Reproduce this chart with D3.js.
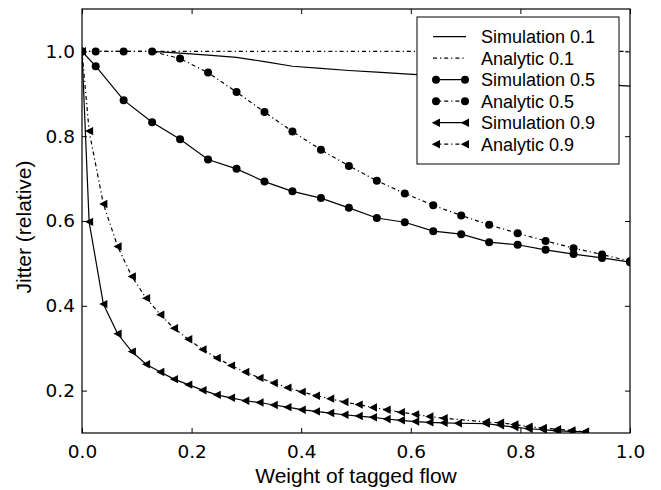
<!DOCTYPE html>
<html>
<head>
<meta charset="utf-8">
<script src="https://cdn.jsdelivr.net/npm/d3@7"></script>
<style>
  body { margin: 0; background: #fff; }
  svg { display: block; }
</style>
</head>
<body>
<div id="chart-area"></div>
<script>
// x grid of the 0.1 / 0.5 runs
const weightsHalf = [0, 0.025, 0.076, 0.128, 0.179, 0.230, 0.282, 0.333, 0.384, 0.436,
    0.487, 0.538, 0.589, 0.641, 0.692, 0.743, 0.795, 0.846, 0.897, 0.949, 1.0];
const sim01 = [null, null, null, 1.0, 0.996, 0.991, 0.986, 0.976, 0.965, 0.960,
    0.955, 0.951, 0.947, 0.943, 0.940, 0.936, 0.933, 0.929, 0.926, 0.922, 0.918];
const ana01 = [1.0, 1.0, 1.0, 1.0, 1.0, 1.0, 1.0, 1.0, 1.0, 1.0,
    1.0, 1.0, 1.0, 1.0, 1.0, 1.0, 1.0, 1.0, 1.0, 1.0, 1.0];
const sim05 = [1.0, 0.965, 0.885, 0.833, 0.793, 0.745, 0.723, 0.693, 0.670, 0.654,
    0.631, 0.607, 0.597, 0.576, 0.569, 0.550, 0.544, 0.532, 0.522, 0.513, 0.503];
const ana05 = [1.0, 1.0, 1.0, 1.0, 0.983, 0.950, 0.904, 0.857, 0.811, 0.768,
    0.730, 0.695, 0.665, 0.637, 0.613, 0.591, 0.571, 0.553, 0.536, 0.521, 0.505];

// x grid of the 0.9 runs
const weightsNine = [0, 0.013, 0.039, 0.065, 0.091, 0.117, 0.143, 0.168, 0.194, 0.220,
    0.246, 0.272, 0.298, 0.324, 0.350, 0.375, 0.401, 0.427, 0.453, 0.479,
    0.505, 0.531, 0.556, 0.582, 0.608, 0.634, 0.660, 0.686, 0.712, 0.737,
    0.763, 0.789, 0.815, 0.841, 0.867, 0.893, 0.918];
const sim09 = [1.0, 0.598, 0.404, 0.334, 0.292, 0.262, 0.244, 0.227, 0.214, 0.201,
    0.190, 0.183, 0.176, 0.172, 0.166, 0.161, 0.155, 0.151, 0.147, 0.143,
    0.140, 0.137, 0.133, 0.130, 0.127, 0.125, 0.124, 0.123, null, 0.122,
    0.118, 0.114, 0.110, 0.108, 0.105, 0.104, 0.103];
const ana09 = [1.0, 0.812, 0.640, 0.540, 0.469, 0.418, 0.379, 0.347, 0.321, 0.297,
    0.277, 0.259, 0.244, 0.230, 0.218, 0.207, 0.197, 0.188, 0.181, 0.173,
    0.167, 0.160, 0.155, 0.149, 0.144, 0.139, 0.135, null, null, 0.126,
    0.124, 0.120, 0.115, 0.112, 0.109, 0.106, 0.103];

const xTicks = [0.0, 0.2, 0.4, 0.6, 0.8, 1.0];
const yTicks = [0.2, 0.4, 0.6, 0.8, 1.0];

const series = [
    {name: "Simulation 0.1", xs: weightsHalf, ys: sim01, dash: null, marker: null},
    {name: "Analytic 0.1", xs: weightsHalf, ys: ana01, dash: "4,3,1.2,3", marker: null},
    {name: "Simulation 0.5", xs: weightsHalf, ys: sim05, dash: null, marker: "circle"},
    {name: "Analytic 0.5", xs: weightsHalf, ys: ana05, dash: "4,3,1.2,3", marker: "circle"},
    {name: "Simulation 0.9", xs: weightsNine, ys: sim09, dash: null, marker: "tri"},
    {name: "Analytic 0.9", xs: weightsNine, ys: ana09, dash: "4,3,1.2,3", marker: "tri"}
];

const W = 661, H = 490;
const margin = {top: 9, right: 31, bottom: 57, left: 82};
const iw = W - margin.left - margin.right;
const ih = H - margin.top - margin.bottom;

const x = d3.scaleLinear().domain([0, 1]).range([0, iw]);
const y = d3.scaleLinear().domain([0.1, 1.1]).range([ih, 0]);

const svg = d3.select("#chart-area").append("svg")
    .attr("width", W)
    .attr("height", H);

svg.append("defs").append("clipPath")
    .attr("id", "plot-clip")
    .append("rect")
    .attr("width", iw)
    .attr("height", ih);

const g = svg.append("g")
    .attr("transform", `translate(${margin.left},${margin.top})`);

const tickFont = "'DejaVu Sans', sans-serif";
const labelFont = "'Liberation Sans', Arial, sans-serif";

// axes with inward ticks on all four sides
const axisBottom = d3.axisBottom(x).tickValues(xTicks).tickFormat(d3.format(".1f"))
    .tickSizeInner(-5).tickSizeOuter(0).tickPadding(12);
const axisTop = d3.axisTop(x).tickValues(xTicks).tickFormat("")
    .tickSizeInner(-5).tickSizeOuter(0);
const axisLeft = d3.axisLeft(y).tickValues(yTicks).tickFormat(d3.format(".1f"))
    .tickSizeInner(-5).tickSizeOuter(0).tickPadding(7);
const axisRight = d3.axisRight(y).tickValues(yTicks).tickFormat("")
    .tickSizeInner(-5).tickSizeOuter(0);

const gx = g.append("g").attr("transform", `translate(0,${ih})`).call(axisBottom);
const gxt = g.append("g").call(axisTop);
const gy = g.append("g").call(axisLeft);
const gyr = g.append("g").attr("transform", `translate(${iw},0)`).call(axisRight);

[gx, gxt, gy, gyr].forEach(a => {
    a.select(".domain").remove();
    a.selectAll(".tick line").attr("stroke", "#000").attr("stroke-width", 1);
    a.selectAll(".tick text")
        .attr("fill", "#000")
        .style("font-family", tickFont)
        .style("font-size", "18.5px");
});

const plot = g.append("g").attr("clip-path", "url(#plot-clip)");

const line = d3.line()
    .x(d => x(d[0]))
    .y(d => y(d[1]));

const triPath = "M-4.2,0L4,-4.2L4,4.2Z";

series.forEach(s => {
    const pts = s.xs.map((v, i) => [v, s.ys[i]]).filter(d => d[1] !== null);
    plot.append("path")
        .datum(pts)
        .attr("d", line)
        .attr("fill", "none")
        .attr("stroke", "#000")
        .attr("stroke-width", 1.2)
        .attr("stroke-dasharray", s.dash);

    if (s.marker === "circle") {
        plot.selectAll(null)
            .data(pts)
            .enter()
            .append("circle")
            .attr("cx", d => x(d[0]))
            .attr("cy", d => y(d[1]))
            .attr("r", 4)
            .attr("fill", "#000");
    } else if (s.marker === "tri") {
        plot.selectAll(null)
            .data(pts)
            .enter()
            .append("path")
            .attr("d", triPath)
            .attr("transform", d => `translate(${x(d[0])},${y(d[1])})`)
            .attr("fill", "#000");
    }
});

// frame
g.append("rect")
    .attr("width", iw)
    .attr("height", ih)
    .attr("fill", "none")
    .attr("stroke", "#000")
    .attr("stroke-width", 1.2);

// axis titles
svg.append("text")
    .attr("x", margin.left + iw / 2)
    .attr("y", 483)
    .attr("text-anchor", "middle")
    .style("font-family", labelFont)
    .style("font-size", "21px")
    .text("Weight of tagged flow");

svg.append("text")
    .attr("transform", `translate(31,${margin.top + ih / 2 + 6}) rotate(-90)`)
    .attr("text-anchor", "middle")
    .style("font-family", labelFont)
    .style("font-size", "21px")
    .text("Jitter (relative)");

// legend
const legend = svg.append("g").attr("transform", "translate(417,17)");
legend.append("rect")
    .attr("width", 202)
    .attr("height", 147)
    .attr("fill", "#fff")
    .attr("stroke", "#000")
    .attr("stroke-width", 1);

series.forEach((s, i) => {
    const row = legend.append("g").attr("transform", `translate(0,${19.7 + i * 21.5})`);
    row.append("line")
        .attr("x1", 16).attr("x2", 49)
        .attr("y1", 0).attr("y2", 0)
        .attr("stroke", "#000")
        .attr("stroke-width", 1.2)
        .attr("stroke-dasharray", s.dash);
    [19, 48].forEach(px => {
        if (s.marker === "circle") {
            row.append("circle").attr("cx", px).attr("cy", 0).attr("r", 4).attr("fill", "#000");
        } else if (s.marker === "tri") {
            row.append("path").attr("d", triPath)
                .attr("transform", `translate(${px},0)`).attr("fill", "#000");
        }
    });
    row.append("text")
        .attr("x", 64)
        .attr("y", 6.5)
        .style("font-family", labelFont)
        .style("font-size", "18px")
        .text(s.name);
});
</script>
</body>
</html>
